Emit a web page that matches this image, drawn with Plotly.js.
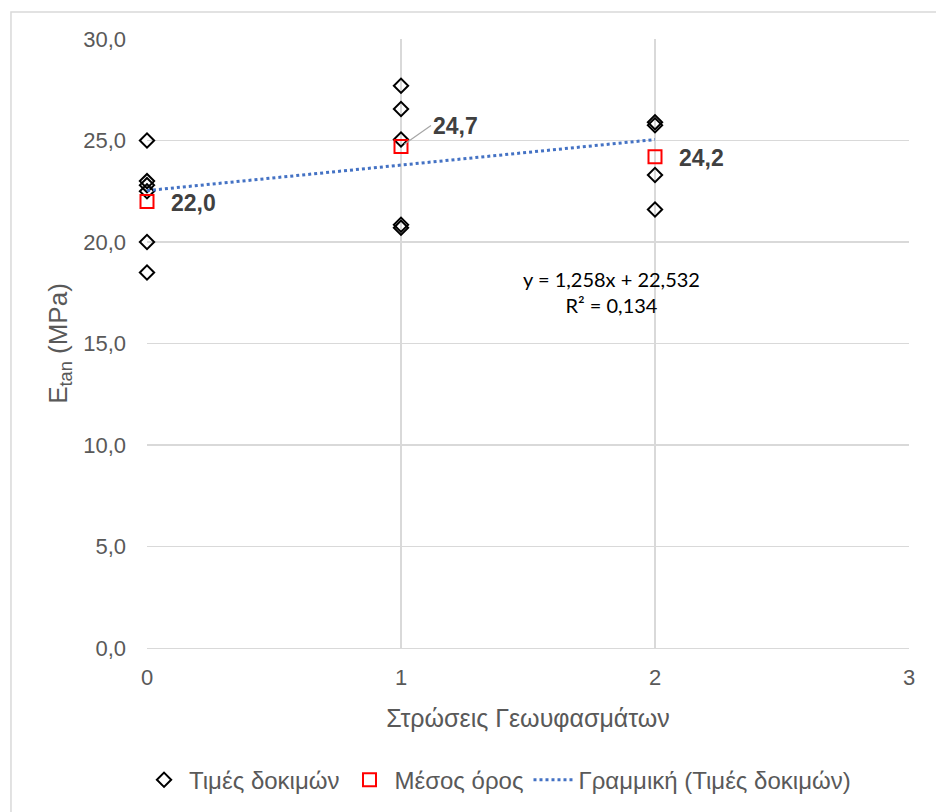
<!DOCTYPE html>
<html>
<head>
<meta charset="utf-8">
<script src="https://cdn.plot.ly/plotly-3.0.1.min.js"></script>
<style>html,body{margin:0;padding:0;background:#fff;}#chart{width:936px;height:812px;}</style>
</head>
<body>
<div id="chart"></div>
<script>
// Test values (Τιμές δοκιμών)
const testX = [0, 0, 0, 0, 0, 0, 1, 1, 1, 1, 1, 2, 2, 2, 2];
const testY = [25.0, 23.0, 22.8, 22.5, 20.0, 18.5, 27.7, 26.55, 25.05, 20.85, 20.7, 25.9, 25.75, 23.3, 21.6];
// Means (Μέσος όρος)
const meanX = [0, 1, 2];
const meanY = [22.0, 24.7, 24.2];
const meanLabels = ["22,0", "24,7", "24,2"];
// Linear trendline
const trendSlope = 1.258;
const trendIntercept = 22.532;
const trendR2 = 0.134;
const trendX = [0, 2];
const xTicks = [0, 1, 2, 3];
const yTicks = [0, 5, 10, 15, 20, 25, 30];

const trendY = trendX.map(x => trendSlope * x + trendIntercept);
const fmt = (v, d) => v.toFixed(d).replace('.', ',');

const traces = [
  {x: testX, y: testY, type: 'scatter', mode: 'markers', name: 'Τιμές δοκιμών', cliponaxis: false,
   marker: {symbol: 'diamond-open', size: 11, color: '#000000', line: {width: 2, color: '#000000'}}},
  {x: meanX, y: meanY, type: 'scatter', mode: 'markers', name: 'Μέσος όρος', cliponaxis: false,
   marker: {symbol: 'square-open', size: 13, color: '#ff0000', line: {width: 2, color: '#ff0000'}}},
  {x: trendX, y: trendY, type: 'scatter', mode: 'lines', name: 'Γραμμική (Τιμές δοκιμών)', cliponaxis: false,
   line: {color: '#4472C4', width: 3, dash: 'dot'}}
];

const labelFont = {family: 'Liberation Sans, Arial, sans-serif', size: 23, color: '#404040'};
const annotations = [
  {x: meanX[0], y: meanY[0], text: '<b>' + meanLabels[0] + '</b>', showarrow: false, xanchor: 'left', xshift: 22, yshift: -2, font: labelFont},
  {x: meanX[1], y: meanY[1], text: '<b>' + meanLabels[1] + '</b>', showarrow: true, arrowhead: 0, arrowwidth: 1.2, arrowcolor: '#a6a6a6',
   ax: 30, ay: -21, xanchor: 'left', standoff: 4, font: labelFont},
  {x: meanX[2], y: meanY[2], text: '<b>' + meanLabels[2] + '</b>', showarrow: false, xanchor: 'left', xshift: 22, yshift: -1, font: labelFont},
  {x: 1.83, y: 17.55, text: 'y = ' + fmt(trendSlope, 3) + 'x + ' + fmt(trendIntercept, 3) + '<br>R² = ' + fmt(trendR2, 3),
   showarrow: false, align: 'center', font: {family: 'Lato, Open Sans, sans-serif', size: 20, color: '#000000'}}
];

const layout = {
  width: 936, height: 812,
  margin: {l: 147, r: 27, t: 39, b: 164, autoexpand: false},
  paper_bgcolor: '#ffffff', plot_bgcolor: '#ffffff',
  separators: ',.',
  font: {family: 'Liberation Sans, Arial, sans-serif', color: '#595959', size: 22},
  showlegend: true,
  legend: {orientation: 'h', x: 0.46, xanchor: 'center', y: -0.217, yanchor: 'middle',
           font: {family: 'Liberation Sans, Arial, sans-serif', size: 24, color: '#595959'},
           itemwidth: 40, tracegroupgap: 0},
  xaxis: {range: [0, 3], tickvals: xTicks, ticktext: xTicks.map(String), showgrid: true, gridcolor: '#d9d9d9', gridwidth: 1.3,
          zeroline: false, showline: true, linecolor: '#d9d9d9', linewidth: 1.3, ticks: '', ticklen: 0,
          ticklabelstandoff: 9, automargin: false,
          tickfont: {size: 22, color: '#595959'},
          title: {text: 'Στρώσεις Γεωυφασμάτων', font: {size: 25, color: '#595959'}, standoff: 20}},
  yaxis: {range: [0, 30], tickvals: yTicks, ticktext: yTicks.map(v => fmt(v, 1)), showgrid: true, gridcolor: '#d9d9d9', gridwidth: 1.3,
          zeroline: false, showline: false, ticks: '', ticklen: 0,
          ticklabelstandoff: 20, automargin: false,
          tickfont: {size: 22, color: '#595959'},
          title: {text: 'E<sub>tan</sub> (MPa)', font: {size: 26, color: '#595959'}, standoff: 8}},
  annotations: annotations,
  shapes: [
    {type: 'rect', xref: 'paper', yref: 'paper', x0: -0.1785, x1: 1.2, y0: -0.5, y1: 1.0443,
     line: {color: '#d9d9d9', width: 1.5}, fillcolor: 'rgba(0,0,0,0)', layer: 'below'}
  ]
};

Plotly.newPlot('chart', traces, layout, {staticPlot: true, displayModeBar: false});
</script>
</body>
</html>
